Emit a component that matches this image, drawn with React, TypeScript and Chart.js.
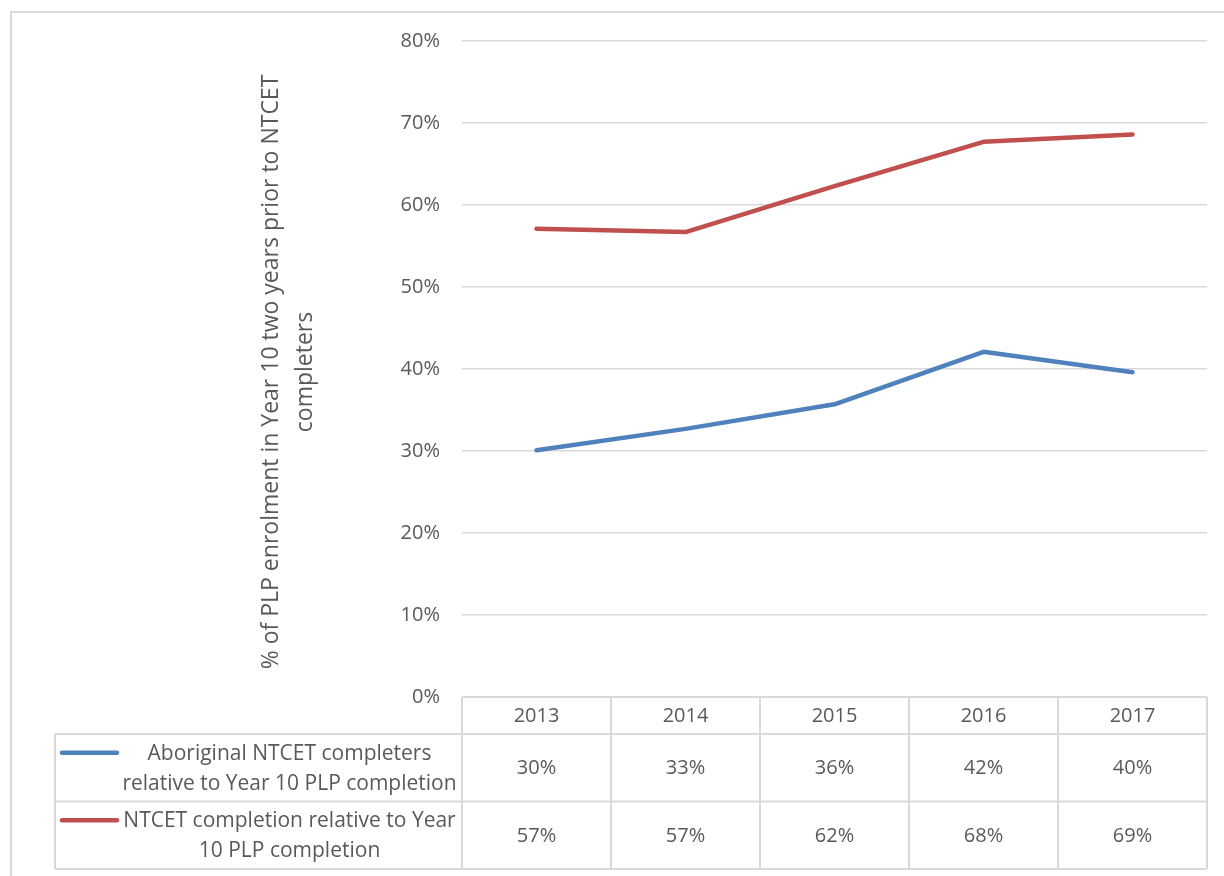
import React, { useEffect, useRef } from 'react';
import { Chart, registerables } from 'chart.js';

Chart.register(...registerables);

const years = ['2013', '2014', '2015', '2016', '2017'];
const aboriginalValues = [30.1, 32.7, 35.7, 42.1, 39.6];
const ntcetValues = [57.1, 56.7, 62.3, 67.7, 68.6];
const aboriginalLabel = ['Aboriginal NTCET completers', 'relative to Year 10 PLP completion'];
const ntcetLabel = ['NTCET completion relative to Year', '10 PLP completion'];
const yTitleLines = ['% of PLP enrolment in Year 10 two years prior to NTCET', 'completers'];
const yMin = 0;
const yMax = 80;
const yStep = 10;

const BLUE = '#4f81bd';
const RED = '#c0504d';
const TEXT = '#595959';
const GRID = '#d9d9d9';
const FONT = '"Open Sans", sans-serif';

const seriesList = [
  { name: aboriginalLabel, values: aboriginalValues, color: BLUE },
  { name: ntcetLabel, values: ntcetValues, color: RED },
];

const framePlugin = {
  id: 'frame',
  beforeDraw(chart: any) {
    const ctx = chart.ctx;
    ctx.save();
    ctx.strokeStyle = GRID;
    ctx.lineWidth = 2;
    ctx.beginPath();
    ctx.moveTo(11, chart.height + 2);
    ctx.lineTo(11, 12);
    ctx.lineTo(chart.width + 2, 12);
    ctx.stroke();
    ctx.restore();
  },
};

const yTitlePlugin = {
  id: 'yTitle',
  afterDraw(chart: any) {
    const ctx = chart.ctx;
    const area = chart.chartArea;
    const cy = (area.top + area.bottom) / 2 + 3;
    const xs = [271, 305];
    ctx.save();
    ctx.fillStyle = TEXT;
    ctx.font = `23px ${FONT}`;
    ctx.textAlign = 'center';
    ctx.textBaseline = 'middle';
    yTitleLines.forEach((line, i) => {
      ctx.save();
      ctx.translate(xs[i], cy);
      ctx.rotate(-Math.PI / 2);
      ctx.fillText(line, 0, 0);
      ctx.restore();
    });
    ctx.restore();
  },
};

const tablePlugin = {
  id: 'dataTable',
  afterDraw(chart: any) {
    const ctx = chart.ctx;
    const area = chart.chartArea;
    const xScale = chart.scales.x;
    const n = years.length;
    const colW = (area.right - area.left) / n;
    const top = area.bottom;
    const headerH = 37;
    const rowH = 67.5;
    const legendLeft = 55;
    const bottom = top + headerH + rowH * seriesList.length;

    ctx.save();
    ctx.strokeStyle = GRID;
    ctx.lineWidth = 2;
    const hLine = (x1: number, x2: number, y: number) => {
      ctx.beginPath();
      ctx.moveTo(x1, y);
      ctx.lineTo(x2, y);
      ctx.stroke();
    };
    const vLine = (x: number, y1: number, y2: number) => {
      ctx.beginPath();
      ctx.moveTo(x, y1);
      ctx.lineTo(x, y2);
      ctx.stroke();
    };
    hLine(area.left, area.right, top);
    for (let r = 0; r <= seriesList.length; r++) {
      hLine(legendLeft, area.right, top + headerH + r * rowH);
    }
    for (let i = 0; i <= n; i++) {
      vLine(area.left + i * colW, top, bottom);
    }
    vLine(legendLeft, top + headerH, bottom);

    ctx.fillStyle = TEXT;
    ctx.font = `20px ${FONT}`;
    ctx.textAlign = 'center';
    ctx.textBaseline = 'middle';
    years.forEach((y, i) => {
      ctx.fillText(y, xScale.getPixelForValue(i), top + headerH / 2 + 1);
    });

    const lineStart = legendLeft + 7;
    const lineEnd = legendLeft + 62;
    const textCx = (lineEnd + area.left) / 2;
    seriesList.forEach((s, r) => {
      const rowTop = top + headerH + r * rowH;
      const rowCy = rowTop + rowH / 2;
      ctx.font = `20px ${FONT}`;
      s.values.forEach((v, i) => {
        ctx.fillText(`${Math.round(v)}%`, xScale.getPixelForValue(i), rowCy + 1);
      });
      const lh = 30;
      const firstY = rowCy - ((s.name.length - 1) * lh) / 2;
      ctx.font = `21px ${FONT}`;
      s.name.forEach((t, k) => {
        ctx.fillText(t, textCx, firstY + k * lh + 1);
      });
      ctx.save();
      ctx.strokeStyle = s.color;
      ctx.lineWidth = 4.5;
      ctx.lineCap = 'round';
      ctx.beginPath();
      ctx.moveTo(lineStart, firstY);
      ctx.lineTo(lineEnd, firstY);
      ctx.stroke();
      ctx.restore();
    });
    ctx.restore();
  },
};

export default function App() {
  const canvasRef = useRef<HTMLCanvasElement | null>(null);

  useEffect(() => {
    if (!canvasRef.current) return;
    const chart = new Chart(canvasRef.current, {
      type: 'line',
      data: {
        labels: years,
        datasets: seriesList.map((s) => ({
          label: s.name.join(' '),
          data: s.values,
          borderColor: s.color,
          backgroundColor: s.color,
          borderWidth: 4.5,
          borderCapStyle: 'round' as const,
          borderJoinStyle: 'round' as const,
          pointRadius: 0,
          pointHoverRadius: 0,
          tension: 0,
          fill: false,
        })),
      },
      options: {
        responsive: false,
        animation: false,
        layout: { padding: { left: 0, top: 41, right: 17, bottom: 179 } },
        plugins: {
          legend: { display: false },
          title: { display: false },
          tooltip: { enabled: false },
        },
        scales: {
          x: {
            display: false,
            offset: true,
          },
          y: {
            min: yMin,
            max: yMax,
            afterFit(scale: any) {
              scale.width = 462;
            },
            border: { display: false },
            grid: { color: GRID, lineWidth: 1.5, drawTicks: false },
            ticks: {
              stepSize: yStep,
              padding: 22,
              color: TEXT,
              font: { family: FONT, size: 20 },
              callback: (v: any) => `${v}%`,
            },
          },
        },
      },
      plugins: [framePlugin, yTitlePlugin, tablePlugin],
    });
    return () => chart.destroy();
  }, []);

  return (
    <div style={{ position: 'absolute', left: 0, top: 0, width: 1224, height: 876, background: '#fff' }}>
      <canvas ref={canvasRef} width={1224} height={876} style={{ display: 'block' }} />
    </div>
  );
}
